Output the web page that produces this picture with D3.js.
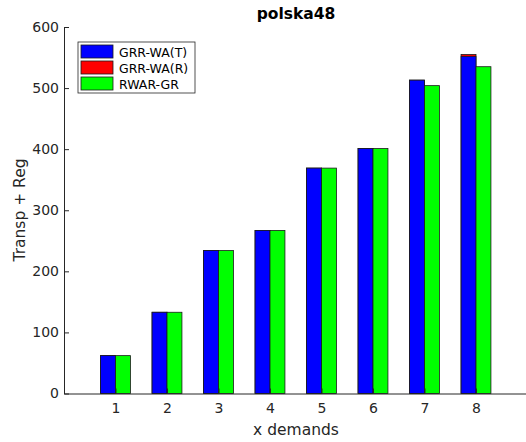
<!DOCTYPE html>
<html>
<head>
<meta charset="utf-8">
<script src="https://cdn.jsdelivr.net/npm/d3@7"></script>
<style>
  body { margin: 0; background: #fff; }
  text { font-family: "DejaVu Sans", sans-serif; }
</style>
</head>
<body>
<div id="chart"></div>
<script>
const categories = [1, 2, 3, 4, 5, 6, 7, 8];
const grrT = [62, 133, 234, 267, 369, 401, 513, 552];
const grrR = [62, 133, 234, 267, 369, 401, 513, 555];
const rwar = [62, 133, 234, 267, 369, 401, 504, 535];
const yTicks = [0, 100, 200, 300, 400, 500, 600];
const seriesNames = ["GRR-WA(T)", "GRR-WA(R)", "RWAR-GR"];
const seriesColors = ["#0000ff", "#ff0000", "#00ff00"];

const W = 526, H = 442;
const svg = d3.select("#chart").append("svg")
  .attr("width", W).attr("height", H);

const x = d3.scaleLinear().domain([0, 9]).range([64, 527.5]);
const y = d3.scaleLinear().domain([0, 600]).range([393.5, 27]);
const bw = 0.29; // bar width in x units

const axisColor = "#262626";

// bars: first slot = red behind blue, second slot = green
const bars = svg.append("g");
function drawSeries(vals, color, offset) {
  bars.selectAll(null)
    .data(vals)
    .enter().append("rect")
    .attr("x", (d, i) => x(categories[i] + offset - bw / 2))
    .attr("width", (d, i) => x(categories[i] + offset + bw / 2) - x(categories[i] + offset - bw / 2))
    .attr("y", d => y(d))
    .attr("height", d => y(0) - y(d))
    .attr("fill", color)
    .attr("stroke", "#1a1a1a")
    .attr("stroke-width", 0.8);
}
drawSeries(grrR, seriesColors[1], -bw / 2);
drawSeries(grrT, seriesColors[0], -bw / 2);
drawSeries(rwar, seriesColors[2], bw / 2);

// y axis (ticks inward)
const yAxis = svg.append("g").attr("transform", `translate(${x(0)},0)`)
  .call(d3.axisLeft(y).tickValues(yTicks).tickSize(-5).tickSizeOuter(0).tickPadding(5));
yAxis.select(".domain").attr("stroke", axisColor);
yAxis.selectAll(".tick line").attr("stroke", axisColor);
yAxis.selectAll(".tick text").attr("fill", axisColor).style("font-size", "14px")
  .style("font-family", "DejaVu Sans, sans-serif");

// x axis
const xAxis = svg.append("g").attr("transform", `translate(0,${y(0)})`)
  .call(d3.axisBottom(x).tickValues(categories).tickSize(-5).tickSizeOuter(0).tickPadding(10).tickFormat(d3.format("d")));
xAxis.select(".domain").attr("stroke", axisColor);
xAxis.selectAll(".tick line").attr("stroke", axisColor);
xAxis.selectAll(".tick text").attr("fill", axisColor).style("font-size", "14px")
  .style("font-family", "DejaVu Sans, sans-serif");

// title and labels
svg.append("text").attr("x", 296).attr("y", 19).attr("text-anchor", "middle")
  .style("font-size", "15.5px").style("font-weight", "bold").attr("fill", "#000")
  .text("polska48");
svg.append("text").attr("x", 296).attr("y", 435).attr("text-anchor", "middle")
  .style("font-size", "15.5px").attr("fill", axisColor).text("x demands");
svg.append("text").attr("transform", "translate(25,210) rotate(-90)").attr("text-anchor", "middle")
  .style("font-size", "15.5px").attr("fill", axisColor).text("Transp + Reg");

// legend
const lg = svg.append("g").attr("transform", "translate(78,42)");
lg.append("rect").attr("width", 117).attr("height", 51)
  .attr("fill", "#fff").attr("stroke", "#262626").attr("stroke-width", 0.8);
seriesNames.forEach((name, i) => {
  const row = lg.append("g").attr("transform", `translate(3,${3 + i * 16})`);
  row.append("rect").attr("width", 32).attr("height", 13)
    .attr("fill", seriesColors[i]).attr("stroke", "#1a1a1a").attr("stroke-width", 0.8);
  row.append("text").attr("x", 38).attr("y", 11.5).style("font-size", "12.5px")
    .attr("fill", "#000").text(name);
});
</script>
</body>
</html>
